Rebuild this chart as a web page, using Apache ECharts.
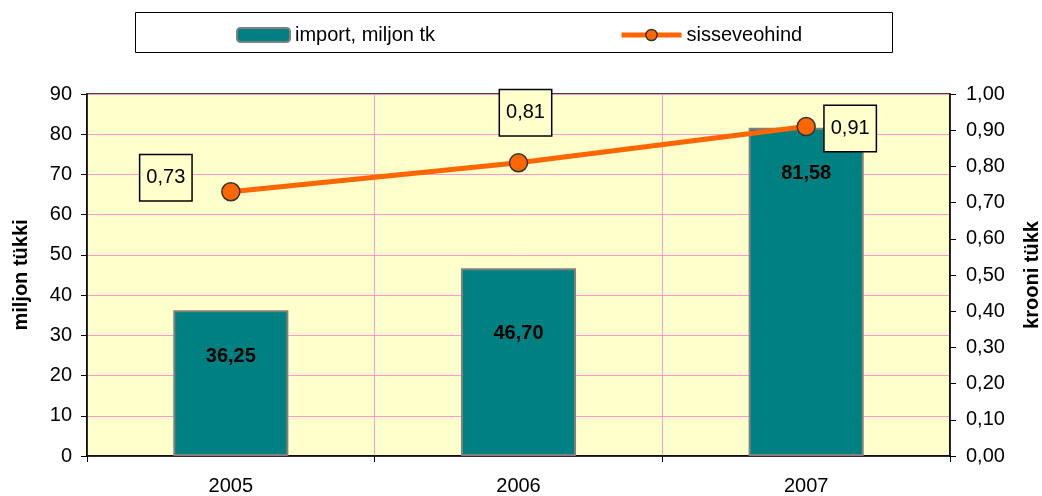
<!DOCTYPE html>
<html><head><meta charset="utf-8">
<script src="https://cdn.jsdelivr.net/npm/echarts@6/dist/echarts.min.js"></script>
<style>html,body{margin:0;padding:0;background:#fff}#c{width:1042px;height:496px}</style>
</head><body><div id="c"></div>
<script>
const categories = ['2005', '2006', '2007'];
const importValues = [36.25, 46.70, 81.58];
const priceValues = [0.73, 0.81, 0.91];
const seriesNames = ['import, miljon tk', 'sisseveohind'];

const fmt = (v, d) => v.toFixed(d).replace('.', ',');
const F = 'Liberation Sans, Arial, sans-serif';
const FS = 20;
const priceLabelOffsets = [[-65, -14], [7, -50], [44, 2]];
const barLabelDist = [36, 55, 36];

const chart = echarts.init(document.getElementById('c'));
chart.setOption({
  animation: false,
  graphic: [{type: 'rect', shape: {x: 135.5, y: 12.5, width: 757, height: 40},
    style: {fill: '#fff', stroke: '#000', lineWidth: 1}, z: -1}],
  legend: [
    {left: 231, top: 20, data: [seriesNames[0]], itemWidth: 53, itemHeight: 14,
     textStyle: {fontFamily: F, fontSize: FS, color: '#000'}},
    {left: 614, top: 20, data: [seriesNames[1]], itemWidth: 60, itemHeight: 14,
     lineStyle: {width: 5, color: '#FF6600'},
     itemStyle: {color: '#FF6600', borderColor: '#333', borderWidth: 1.5},
     textStyle: {fontFamily: F, fontSize: FS, color: '#000'}}
  ],
  grid: {left: 87, right: 92, top: 94, bottom: 40, show: true, outerBoundsMode: 'none', containLabel: false,
    backgroundColor: '#FFFFCC', borderColor: '#000', borderWidth: 1.5},
  xAxis: {type: 'category', data: categories, boundaryGap: true,
    axisLine: {lineStyle: {color: '#000', width: 1.5}},
    axisTick: {show: true, alignWithLabel: false, length: 6, lineStyle: {color: '#000'}},
    axisLabel: {fontFamily: F, fontSize: FS, color: '#000', margin: 20},
    splitLine: {show: true, lineStyle: {color: '#FF99CC', width: 1}}},
  yAxis: [
    {type: 'value', min: 0, max: 90, interval: 10, name: 'miljon tükki', nameLocation: 'middle', nameGap: 56,
     nameTextStyle: {fontFamily: F, fontSize: FS, fontWeight: 'bold', color: '#000'},
     axisLine: {show: true, lineStyle: {color: '#000', width: 1.5}},
     axisTick: {show: true, length: 6, lineStyle: {color: '#000'}},
     axisLabel: {fontFamily: F, fontSize: FS, color: '#000', margin: 15},
     splitLine: {show: true, lineStyle: {color: '#FF99CC', width: 1}}},
    {type: 'value', min: 0, max: 1, interval: 0.1, name: 'krooni tükk', nameLocation: 'middle', nameGap: 72,
     nameRotate: 90,
     nameTextStyle: {fontFamily: F, fontSize: FS, fontWeight: 'bold', color: '#000'},
     axisLine: {show: true, lineStyle: {color: '#000', width: 1.5}},
     axisTick: {show: true, length: 6, lineStyle: {color: '#000'}},
     axisLabel: {fontFamily: F, fontSize: FS, color: '#000', margin: 16, formatter: v => fmt(v, 2)},
     splitLine: {show: false}}
  ],
  series: [
    {name: seriesNames[0], type: 'bar', yAxisIndex: 0, barWidth: '40%',
     itemStyle: {color: '#008080', borderColor: '#808080', borderWidth: 2},
     data: importValues.map((v, i) => ({value: v, label: {distance: barLabelDist[i]}})),
     label: {show: true, position: 'insideTop', fontFamily: F, fontSize: FS, fontWeight: 'bold',
       color: '#000', formatter: p => fmt(p.value, 2)}},
    {name: seriesNames[1], type: 'line', yAxisIndex: 1, symbol: 'circle', symbolSize: 18,
     lineStyle: {color: '#FF6600', width: 5},
     itemStyle: {color: '#FF6600', borderColor: '#333', borderWidth: 1.5},
     data: priceValues.map((v, i) => ({value: v, label: {offset: priceLabelOffsets[i]}})),
     label: {show: true, position: 'inside', fontFamily: F, fontSize: FS, color: '#000',
       backgroundColor: '#FFFFCC', borderColor: '#000', borderWidth: 1.5,
       padding: [13, 6, 12, 6], formatter: p => fmt(p.value, 2)}, z: 5}
  ]
});
</script></body></html>
